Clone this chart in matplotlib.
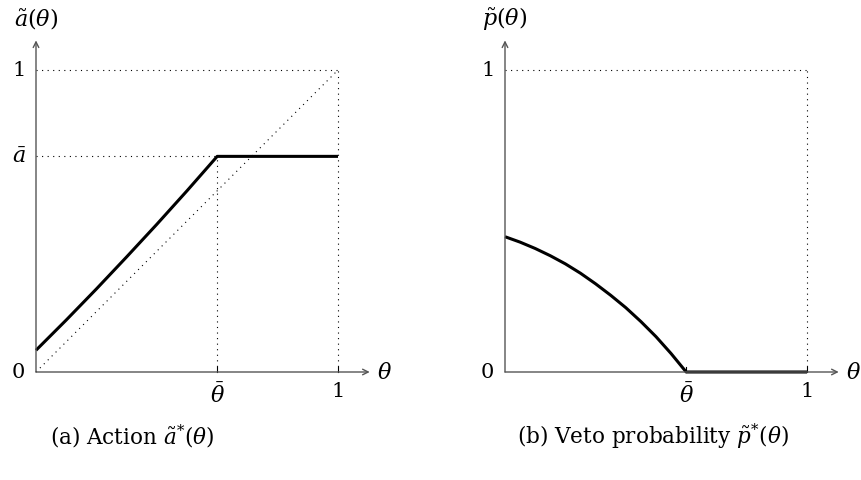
import matplotlib.pyplot as plt

# Panel (a): action a~*(theta)
theta_bar = 0.6
a_bar = 0.714
act_theta = [0.0, 0.1, 0.2, 0.3, 0.4, 0.5, theta_bar, 1.0]
act_val = [0.072, 0.172, 0.275, 0.381, 0.489, 0.600, a_bar, a_bar]

# Panel (b): veto probability p~*(theta)
veto_theta = [0.0, 0.05, 0.1, 0.15, 0.2, 0.25, 0.3, 0.35, 0.4, 0.45, 0.5, 0.55, theta_bar, 1.0]
veto_val = [0.448, 0.430, 0.409, 0.385, 0.358, 0.327, 0.292, 0.254, 0.213, 0.167, 0.117, 0.061, 0.0, 0.0]

plt.rcParams['font.family'] = 'DejaVu Serif'
plt.rcParams['mathtext.fontset'] = 'dejavuserif'

W, H = 862, 481
fig = plt.figure(figsize=(W / 100, H / 100), dpi=100)

unit = 302.0  # pixels per data unit
axis_col = '#555555'
fs_num = 15
fs_math = 16
fs_cap = 15.5


def make_axes(px0, px1, ox, oy):
    ax = fig.add_axes([px0 / W, 0, (px1 - px0) / W, 1])
    ax.set_xlim((px0 - ox) / unit, (px1 - ox) / unit)
    ax.set_ylim((oy - H) / unit, oy / unit)
    ax.axis('off')
    return ax


def draw_frame(ax, ylabel, caption, cap_x):
    ax.annotate('', xy=(1.105, 0), xytext=(0, 0),
                arrowprops=dict(arrowstyle='->', color=axis_col, lw=1.0,
                                shrinkA=0, shrinkB=0, mutation_scale=10))
    ax.annotate('', xy=(0, 1.098), xytext=(0, 0),
                arrowprops=dict(arrowstyle='->', color=axis_col, lw=1.0,
                                shrinkA=0, shrinkB=0, mutation_scale=10))
    dot = dict(color='black', lw=0.8, linestyle=(0, (1, 4)))
    ax.plot([0, 1], [1, 1], **dot)
    ax.plot([1, 1], [0, 1], **dot)
    for xt in (theta_bar, 1.0):
        ax.plot([xt, xt], [0, 0.015], color='black', lw=0.8)
    ax.text(0, 1.175, ylabel, ha='center', va='center', fontsize=fs_math)
    ax.text(1.155, 0, r'$\theta$', ha='center', va='center', fontsize=fs_math)
    ax.text(-0.035, 1, '1', ha='right', va='center', fontsize=fs_num)
    ax.text(-0.035, 0, '0', ha='right', va='center', fontsize=fs_num)
    ax.text(theta_bar, -0.075, r'$\bar{\theta}$', ha='center', va='center', fontsize=fs_math)
    ax.text(1.0, -0.062, '1', ha='center', va='center', fontsize=fs_num)
    ax.text(cap_x, -0.21, caption, ha='center', va='center', fontsize=fs_cap)
    return dot


# left panel
ax1 = make_axes(0, 431, 36, 373)
dot = draw_frame(ax1, r'$\tilde{a}(\theta)$', r'(a) Action $\tilde{a}^{*}(\theta)$', 0.32)
ax1.plot([0, 1], [0, 1], **dot)
ax1.plot([0, theta_bar], [a_bar, a_bar], **dot)
ax1.plot([theta_bar, theta_bar], [0, a_bar], **dot)
ax1.text(-0.035, a_bar, r'$\bar{a}$', ha='right', va='center', fontsize=fs_math)
ax1.plot(act_theta, act_val, color='black', lw=2.2, solid_capstyle='butt')

# right panel
ax2 = make_axes(431, 862, 505, 373)
draw_frame(ax2, r'$\tilde{p}(\theta)$', r'(b) Veto probability $\tilde{p}^{*}(\theta)$', 0.49)
ax2.plot(veto_theta, veto_val, color='black', lw=2.2, solid_capstyle='butt')

fig.savefig('out.png', dpi=100)
